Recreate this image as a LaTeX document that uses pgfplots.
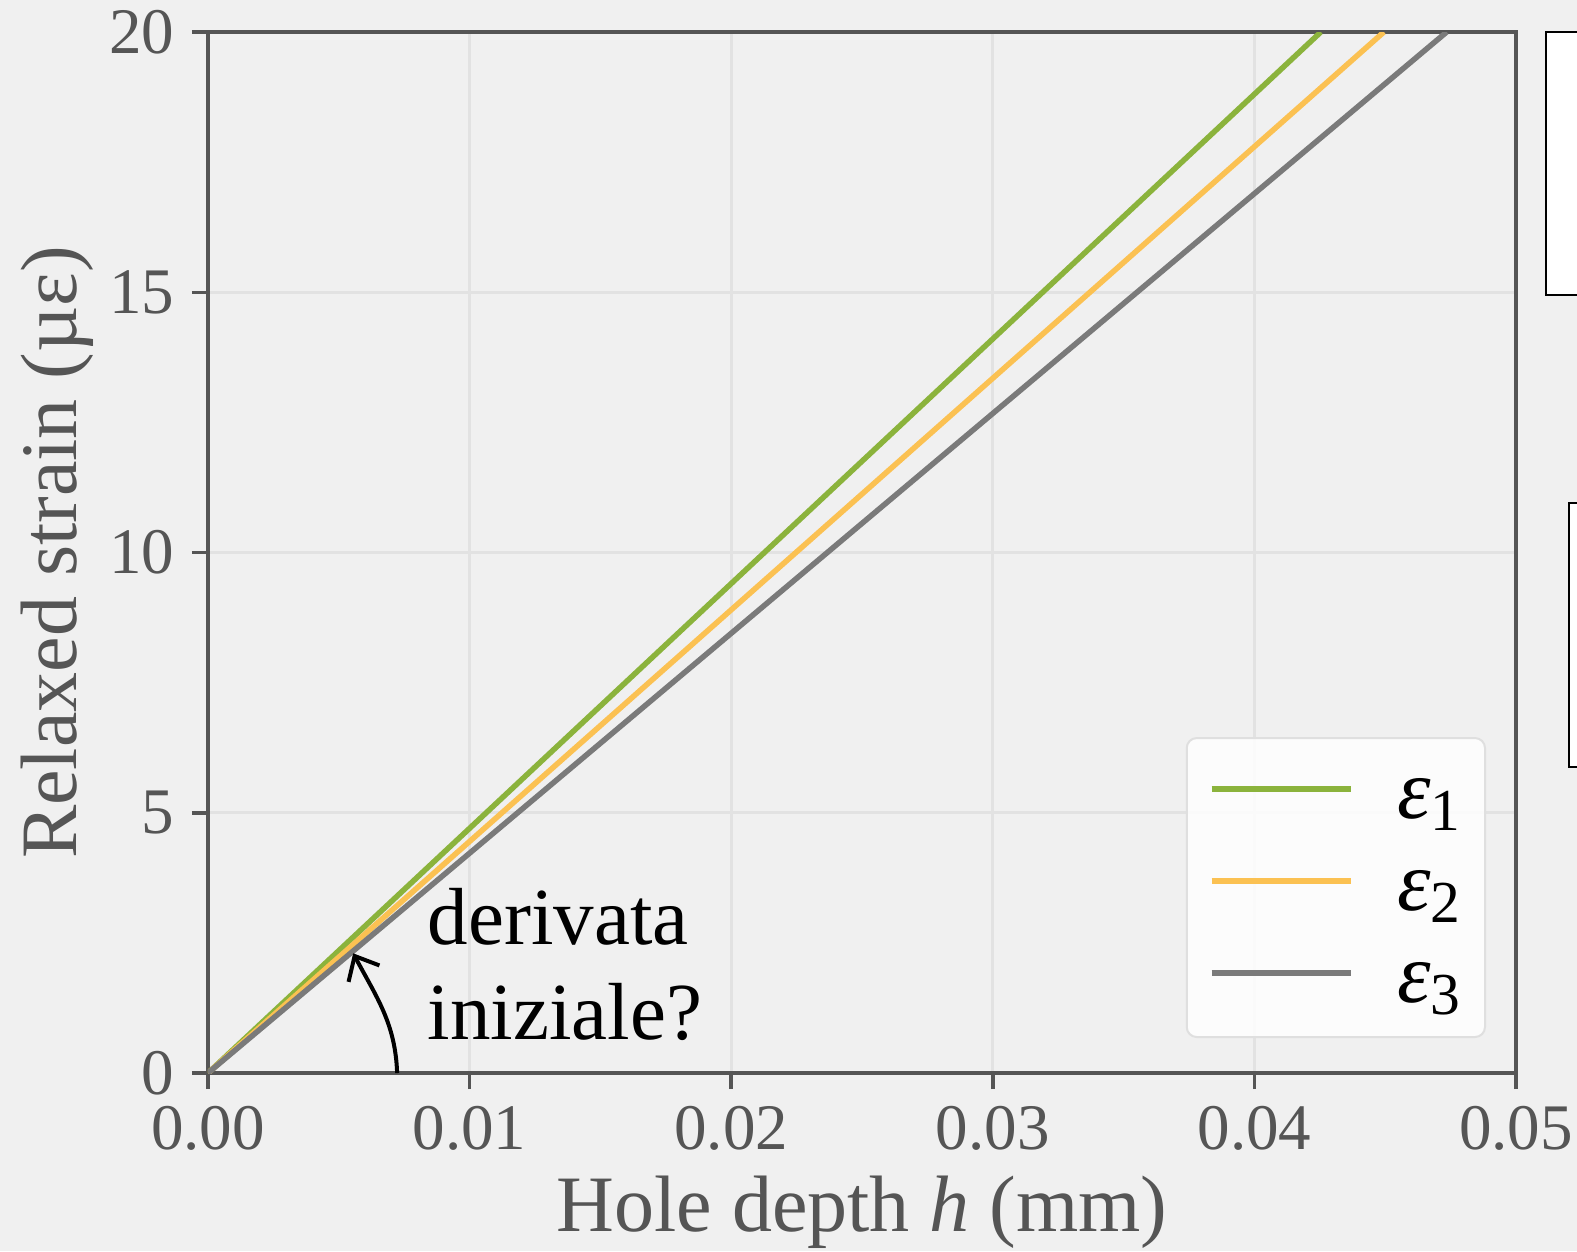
\documentclass[border=0pt]{standalone}
\usepackage{fontspec}
\setmainfont{Liberation Serif}
\usepackage{pgfplots}
\pgfplotsset{compat=1.18}
\usetikzlibrary{arrows.meta}

\definecolor{bg}{HTML}{F0F0F0}
\definecolor{axcol}{HTML}{555555}
\definecolor{gridcol}{HTML}{E2E2E2}
\definecolor{cgreen}{HTML}{8BB33C}
\definecolor{corange}{HTML}{FBC152}
\definecolor{cgray}{HTML}{7A7A7A}

\newcommand{\eps}[1]{\textit{ε}\textsubscript{#1}}

\begin{document}
\begin{tikzpicture}
% page background (1px = 0.2pt)
\fill[bg] (-41.6pt,-35.6pt) rectangle (273.8pt,214.6pt);

\begin{axis}[
    anchor=origin, at={(0pt,0pt)},
    scale only axis, width=261.6pt, height=208.2pt,
    xmin=0, xmax=0.05, ymin=0, ymax=20,
    xtick={0,0.01,0.02,0.03,0.04,0.05},
    ytick={0,5,10,15,20},
    scaled x ticks=false,
    xticklabel style={/pgf/number format/.cd, fixed, fixed zerofill, precision=2},
    /pgf/number format/assume math mode=true,
    tick label style={font=\fontsize{13}{15}\selectfont, text=axcol},
    xtick pos=left, ytick pos=left,
    tick align=outside, major tick length=3.2pt,
    every tick/.style={axcol, line width=0.7pt},
    axis line style={axcol, line width=0.8pt},
    grid=major, major grid style={gridcol, line width=0.6pt},
    label style={font=\fontsize{16}{19}\selectfont, text=axcol},
    xlabel={Hole depth \textit{h} (mm)},
    ylabel={Relaxed strain (µε)},
    xlabel style={at={(axis description cs:0.5,-0.1527)}, anchor=base},
    ylabel style={at={(axis description cs:-0.1009,0.5)}, anchor=base},
    legend style={at={(1,0)}, anchor=south east, xshift=-6pt, yshift=7pt,
        draw=gray!25, rounded corners=2pt, fill=white, fill opacity=0.85, text opacity=1,
        inner xsep=4.4pt, inner ysep=6pt, row sep=7.4pt,
        font=\fontsize{17}{20}\selectfont,
        /tikz/every odd column/.append style={column sep=8.8pt}},
    legend cell align=left,
    legend style={nodes={inner sep=0pt, text height=10pt, text depth=1pt, anchor=base west, yshift=-5.8pt}},
    legend image code/.code={\draw[#1] (0pt,0pt) -- (27.8pt,0pt);},
]
\addplot[cgreen, line width=1.1pt] coordinates {(0,0) (0.04254,20)};
\addlegendentry{\eps{1}}
\addplot[corange, line width=1.1pt] coordinates {(0,0) (0.04495,20)};
\addlegendentry{\eps{2}}
\addplot[cgray, line width=1.1pt] coordinates {(0,0) (0.04735,20)};
\addlegendentry{\eps{3}}

\draw[black, line width=0.8pt, -{Straight Barb[length=4pt,width=7pt]}]
    (axis cs:0.00723,0) to[out=92,in=-62] (axis cs:0.00555,2.3);
\node[anchor=base west, font=\fontsize{16.2}{19}\selectfont, inner sep=0pt]
    at (axis cs:0.00837,2.46) {derivata};
\node[anchor=base west, font=\fontsize{16.2}{19}\selectfont, inner sep=0pt]
    at (axis cs:0.00837,0.65) {iniziale?};
\end{axis}

% cropped panels at the right edge
\draw[black, line width=0.4pt, fill=white] (267.6pt,155.6pt) rectangle (290pt,208.2pt);
\draw[black, line width=0.4pt, fill=white] (272.2pt,61.2pt) rectangle (290pt,114pt);

\pgfresetboundingbox
\useasboundingbox (-41.6pt,-35.6pt) rectangle (273.8pt,214.6pt);
\end{tikzpicture}
\end{document}
